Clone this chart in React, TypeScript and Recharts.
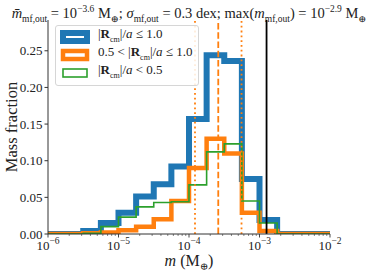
import React from 'react';
import { LineChart, Line, XAxis, YAxis, ReferenceLine } from 'recharts';

const SERIF = '"Liberation Serif", "DejaVu Serif", serif';

// bin edges in log10(m / M_earth), 0.25 dex wide
const LOG_EDGES = [-6, -5.75, -5.5, -5.25, -5, -4.75, -4.5, -4.25, -4, -3.75, -3.5, -3.25, -3, -2.75, -2.5, -2.25, -2];

// mass fraction per bin
const ALL_R = [0, 0, 0.004, 0.015, 0.029, 0.051, 0.068, 0.092, 0.157, 0.244, 0.236, 0.075, 0.019, 0, 0, 0];
const OUTER_R = [0, 0, 0.001, 0.002, 0.005, 0.010, 0.020, 0.045, 0.090, 0.130, 0.110, 0.029, 0.004, 0, 0, 0];
const INNER_R = [0, 0, 0.001, 0.010, 0.023, 0.037, 0.043, 0.044, 0.067, 0.112, 0.123, 0.045, 0.015, 0, 0, 0];

// vertical markers (log10 m)
const MEDIAN_LOG = -3.585;
const SPREAD_LOG = [-3.915, -3.255];
const MAX_LOG = -2.9;

const MAJOR_TICKS = [1e-6, 1e-5, 1e-4, 1e-3, 1e-2];
const MINOR_MULT = [2, 3, 4, 5, 6, 7, 8, 9];
const Y_TICKS = [0, 0.05, 0.1, 0.15, 0.2, 0.25];

const data = LOG_EDGES.map((e, i) => {
  const k = Math.min(i, ALL_R.length - 1);
  return { m: Math.pow(10, e), all: ALL_R[k], outer: OUTER_R[k], inner: INNER_R[k] };
});

const minorTicks = MAJOR_TICKS.slice(0, -1).flatMap((t) => MINOR_MULT.map((k) => k * t));
const xTicks = [...MAJOR_TICKS, ...minorTicks].sort((a, b) => a - b);

const XTick = (props: any) => {
  const { x, y, payload } = props;
  const exp = Math.round(Math.log10(payload.value));
  const major = Math.abs(Math.log10(payload.value) - exp) < 1e-6;
  return (
    <g>
      <line x1={x} x2={x} y1={y} y2={y + (major ? 3.5 : 2)} stroke="#333" strokeWidth={major ? 0.9 : 0.6} />
      {major && (
        <text x={x} y={y + 16} textAnchor="middle" fontFamily={SERIF} fontSize={13} fill="#222">
          10<tspan dy={-6} fontSize={9.5}>{`\u2212${-exp}`}</tspan>
        </text>
      )}
    </g>
  );
};

const RLabel = ({ children }: { children: React.ReactNode }) => (
  <span>
    |<b>R</b>
    <sub style={{ fontSize: 8 }}>cm</sub>|/<i>a</i> {children}
  </span>
);

const SERIES = [
  { key: 'all', color: '#1f77b4', width: 6, label: <RLabel>≤ 1.0</RLabel> },
  { key: 'outer', color: '#ff7f0e', width: 4.5, label: <span>0.5 &lt; <RLabel>≤ 1.0</RLabel></span> },
  { key: 'inner', color: '#2ca02c', width: 1.6, label: <RLabel>&lt; 0.5</RLabel> },
];

const LegendBox = () => (
  <div
    style={{
      position: 'absolute',
      left: 55,
      top: 25,
      border: '1px solid #d6d6d6',
      borderRadius: 3,
      background: 'rgba(255,255,255,0.85)',
      padding: '2px 6px 3px 2px',
      fontFamily: SERIF,
      fontSize: 13,
      color: '#222',
      lineHeight: '18px',
    }}
  >
    {SERIES.map((s) => (
      <div key={s.key} style={{ display: 'flex', alignItems: 'center', height: 18, whiteSpace: 'nowrap' }}>
        <svg width={34} height={16} style={{ marginRight: 6 }}>
          <rect x={5} y={4} width={24} height={8} fill="none" stroke={s.color} strokeWidth={s.width} />
        </svg>
        {s.label}
      </div>
    ))}
  </div>
);

const sub = { fontSize: 9.5 };

export default function App() {
  return (
    <div style={{ position: 'absolute', left: 0, top: 0, width: 374, height: 276, background: '#fff', overflow: 'hidden' }}>
      <div
        style={{
          position: 'absolute', left: 0, width: 378, top: -1, textAlign: 'center',
          fontFamily: SERIF, fontSize: 14.5, color: '#222', whiteSpace: 'nowrap', lineHeight: '20px',
        }}
      >
        <i>m̄</i><sub style={sub}>mf,out</sub> = 10<sup style={sub}>−3.6</sup> M<sub style={sub}>⊕</sub>;{' '}
        <i>σ</i><sub style={sub}>mf,out</sub> = 0.3 dex; max(<i>m</i><sub style={sub}>mf,out</sub>) = 10
        <sup style={sub}>−2.9</sup> M<sub style={sub}>⊕</sub>
      </div>

      <LineChart width={374} height={276} data={data} margin={{ top: 20, right: 44, left: 0, bottom: 0 }}>
        <XAxis
          dataKey="m"
          type="number"
          scale="log"
          domain={[1e-6, 1e-2]}
          allowDataOverflow
          ticks={xTicks}
          interval={0}
          tick={<XTick />}
          tickLine={false}
          tickSize={0}
          tickMargin={0}
          height={42}
          axisLine={{ stroke: '#333', strokeWidth: 1 }}
        />
        <XAxis xAxisId="top" orientation="top" height={0} tick={false} tickLine={false} axisLine={{ stroke: '#333', strokeWidth: 1 }} />
        <YAxis
          type="number"
          domain={[0, 0.292]}
          allowDataOverflow
          ticks={Y_TICKS}
          tickFormatter={(v: number) => v.toFixed(2)}
          tick={{ fontFamily: SERIF, fontSize: 13, fill: '#222' }}
          tickSize={3.5}
          tickMargin={2}
          width={48}
          tickLine={{ stroke: '#333' }}
          axisLine={{ stroke: '#333', strokeWidth: 1 }}
        />
        <YAxis yAxisId="right" orientation="right" width={0} tick={false} tickLine={false} axisLine={{ stroke: '#333', strokeWidth: 1 }} />
        {SERIES.map((s) => (
          <Line
            key={s.key}
            dataKey={s.key}
            type="stepAfter"
            stroke={s.color}
            strokeWidth={s.width}
            strokeLinejoin="miter"
            dot={false}
            activeDot={false}
            isAnimationActive={false}
          />
        ))}
        {SPREAD_LOG.map((v) => (
          <ReferenceLine key={v} x={Math.pow(10, v)} stroke="#ff7f0e" strokeWidth={1.8} strokeDasharray="1.8 3" />
        ))}
        <ReferenceLine x={Math.pow(10, MEDIAN_LOG)} stroke="#ff7f0e" strokeWidth={1.8} strokeDasharray="6.5 2.8" />
        <ReferenceLine x={Math.pow(10, MAX_LOG)} stroke="#000" strokeWidth={1.8} />
      </LineChart>

      <LegendBox />

      <div style={{ position: 'absolute', left: 0, top: 127, width: 0, height: 0 }}>
        <div
          style={{
            position: 'absolute', left: 12, top: 0, transform: 'translate(-50%, -50%) rotate(-90deg)',
            fontFamily: SERIF, fontSize: 16.5, color: '#222', whiteSpace: 'nowrap',
          }}
        >
          Mass fraction
        </div>
      </div>
      <div
        style={{
          position: 'absolute', left: 0, width: 378, top: 252, textAlign: 'center',
          fontFamily: SERIF, fontSize: 16, color: '#222', whiteSpace: 'nowrap',
        }}
      >
        <i>m</i> (M<sub style={{ fontSize: 10 }}>⊕</sub>)
      </div>
    </div>
  );
}
